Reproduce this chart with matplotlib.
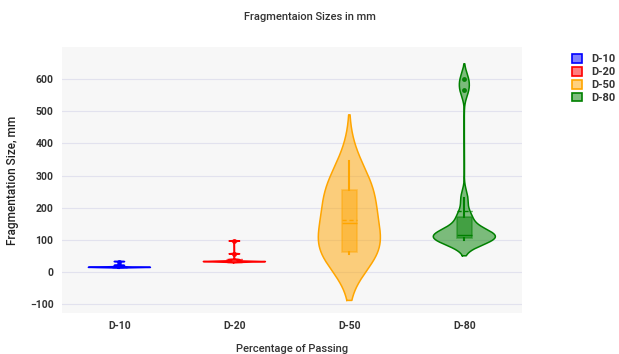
import numpy as np
import matplotlib
matplotlib.use("Agg")
import matplotlib.pyplot as plt
from matplotlib.patches import Patch

# fragment sizes (mm)
groups = ["D-10", "D-20", "D-50", "D-80"]
d10 = [13, 13, 14, 14, 14, 14, 14, 15, 15, 20, 32]
d20 = [30, 31, 31, 32, 32, 32, 32, 33, 33, 36, 38, 56, 96]
d50 = [55, 58, 60, 62, 95, 150, 155, 200, 255, 256, 260, 345]
d80 = [98, 100, 102, 105, 108, 110, 112, 115, 120, 125, 168, 172, 230, 565, 600]
data = [d10, d20, d50, d80]

colors = ["#0000ff", "#ff0000", "#ffa500", "#008000"]
bws = [0.6, 0.8, 72, 24]

plt.rcParams['font.family'] = ['Roboto', 'DejaVu Sans']

fig = plt.figure(figsize=(6.19, 3.54), dpi=100)
ax = fig.add_axes([0.100, 0.116, 0.743, 0.751])
ax.set_facecolor("#f7f7f7")

half = 0.27
for i, (vals, c, bw) in enumerate(zip(data, colors, bws)):
    v = np.array(vals, dtype=float)
    y = np.linspace(v.min() - 2 * bw, v.max() + 2 * bw, 800)
    dens = np.exp(-0.5 * ((y[:, None] - v[None, :]) / bw) ** 2).sum(axis=1)
    w = dens / dens.max() * half
    ax.fill_betweenx(y, i - w, i + w, facecolor=c, alpha=0.5, lw=0, zorder=2)
    ax.plot(np.r_[i - w, (i + w)[::-1], i - w[0]], np.r_[y, y[::-1], y[0]],
            color=c, lw=1.1, zorder=3)

    bp = ax.boxplot([v], positions=[i], widths=0.13, patch_artist=True,
                    showmeans=True, meanline=True, showcaps=False,
                    manage_ticks=False, zorder=4,
                    boxprops=dict(facecolor=c, alpha=0.45, edgecolor=c, lw=1.2),
                    medianprops=dict(color=c, lw=1),
                    meanprops=dict(color=c, lw=1, ls=(0, (3, 2))),
                    whiskerprops=dict(color=c, lw=1.5),
                    flierprops=dict(marker='o', markersize=2.5, markerfacecolor=c,
                                    markeredgecolor=c, alpha=0.9))
    for b in bp['boxes']:
        b.set_edgecolor(c)

ax.set_xlim(-0.5, 3.5)
ax.set_ylim(-128, 700)
ax.set_yticks([-100, 0, 100, 200, 300, 400, 500, 600])
ax.set_xticks(range(len(groups)))
ax.set_xticklabels(groups)
ax.grid(axis='y', color="#e2e2ee", lw=0.8, zorder=0)
ax.set_axisbelow(True)
for s in ax.spines.values():
    s.set_visible(False)
ax.tick_params(length=0, labelsize=7.5, labelcolor="#333333", pad=6)
for lab in ax.get_xticklabels() + ax.get_yticklabels():
    lab.set_fontweight('bold')

ax.set_xlabel("Percentage of Passing", fontsize=8, fontweight='medium',
              color="#333333", labelpad=9)
ax.set_ylabel("Fragmentation Size, mm", fontsize=8.5, fontweight='medium',
              color="#222222", labelpad=8)
fig.suptitle("Fragmentaion Sizes in mm", fontsize=8, fontweight='medium',
             color="#333333", y=0.965)

handles = [Patch(facecolor=matplotlib.colors.to_rgba(c, 0.5), edgecolor=c, lw=1.2) for c in colors]
leg = fig.legend(handles, groups, loc='upper left', bbox_to_anchor=(0.908, 0.875),
                 frameon=False, fontsize=8, handlelength=0.9, handleheight=0.8,
                 handletextpad=0.8, labelspacing=0.25)
for t in leg.get_texts():
    t.set_fontweight('bold')
    t.set_color("#333333")

fig.savefig("out.png", dpi=100)
